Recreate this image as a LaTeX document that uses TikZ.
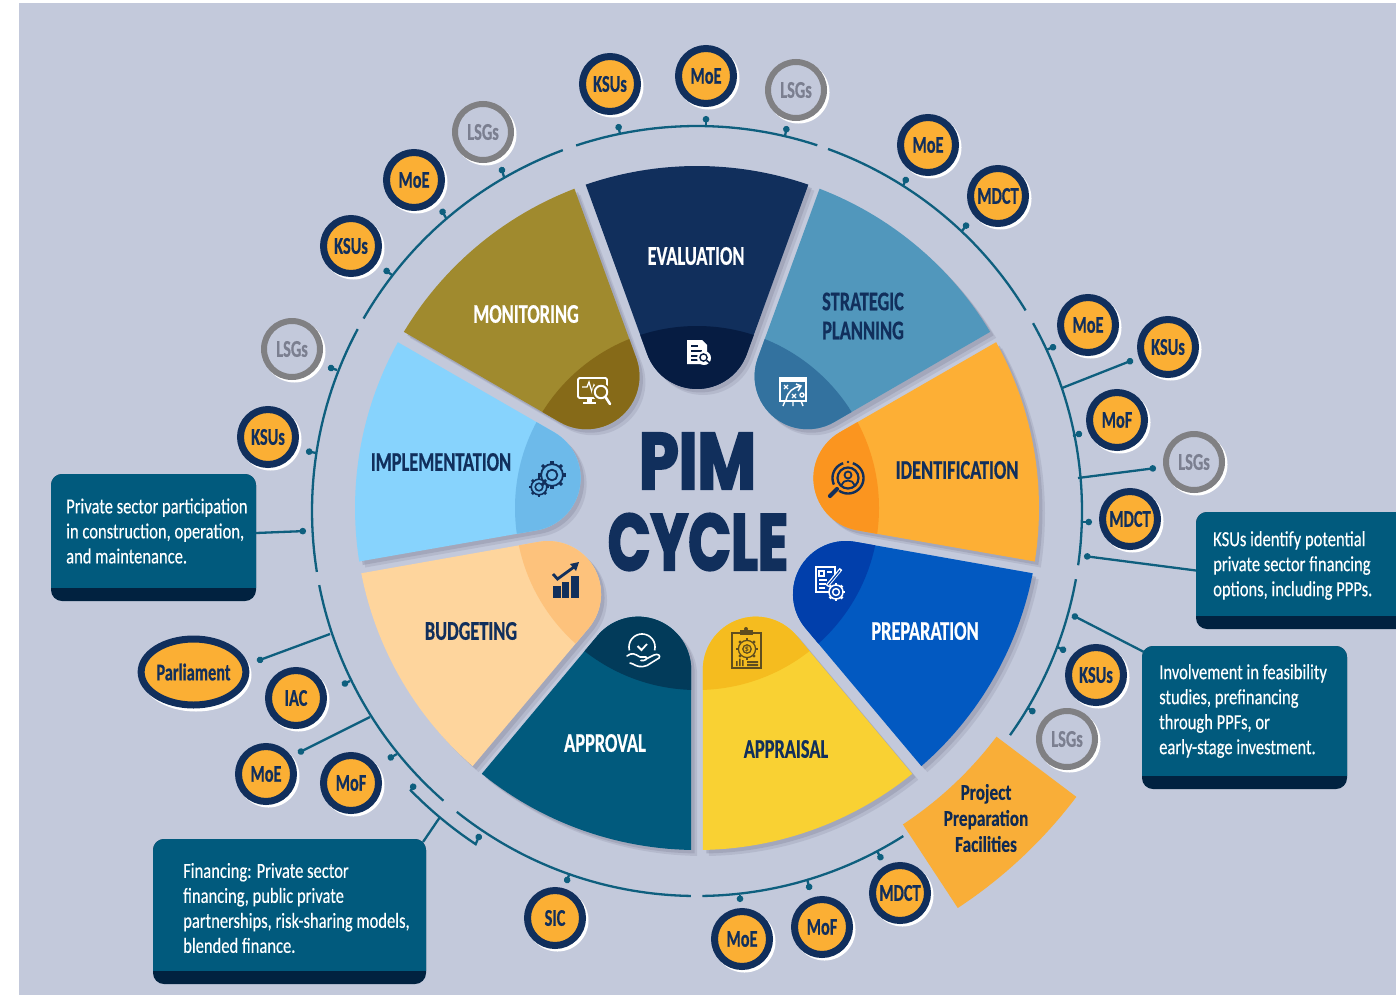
\documentclass[tikz,border=0pt]{standalone}
\usepackage{fontspec}
\usetikzlibrary{arrows.meta,calc,shapes.geometric}
\setmainfont{Carlito}
\newfontfamily\lblfont[FakeStretch=0.68,FakeBold=0.5]{Carlito}
\newfontfamily\bodyfont[FakeStretch=0.77,FakeBold=0.25]{Carlito}
\newfontfamily\ttlfont[FakeStretch=0.78,FakeBold=2.5]{Poppins}
\definecolor{bgc}{HTML}{C3C9DB}
\definecolor{navy}{HTML}{112F5C}
\definecolor{orangec}{HTML}{FBAF34}
\definecolor{ppfc}{HTML}{F9AE38}
\definecolor{ringc}{HTML}{0E5F7E}
\definecolor{boxc}{HTML}{015A7D}
\definecolor{bandc}{HTML}{012240}
\definecolor{lsgc}{HTML}{808083}
\definecolor{lsgt}{HTML}{7B7F90}
\definecolor{shadowc}{HTML}{8F93A8}
\definecolor{iconb}{HTML}{5F4D1E}
\definecolor{w1}{HTML}{112F5C}\definecolor{d1}{HTML}{061C42}
\definecolor{w2}{HTML}{5197BC}\definecolor{d2}{HTML}{33729F}
\definecolor{w3}{HTML}{FDAF35}\definecolor{d3}{HTML}{FB951F}
\definecolor{w4}{HTML}{0259C1}\definecolor{d4}{HTML}{013FAB}
\definecolor{w5}{HTML}{F9D133}\definecolor{d5}{HTML}{F5BC1F}
\definecolor{w6}{HTML}{015A7D}\definecolor{d6}{HTML}{023B5A}
\definecolor{w7}{HTML}{FED59D}\definecolor{d7}{HTML}{FDC27C}
\definecolor{w8}{HTML}{87D3FD}\definecolor{d8}{HTML}{6DBAEA}
\definecolor{w9}{HTML}{A08A2E}\definecolor{d9}{HTML}{866A18}
\tikzset{
  ringline/.style={draw=ringc,line width=2.3pt},
  tickline/.style={draw=ringc,line width=2.3pt,-{Circle[length=6.5pt,width=6.5pt]}},
  wlabel/.style={font=\lblfont\bfseries\fontsize{27}{29}\selectfont,align=center,inner sep=0pt},
  agency/.style={circle,draw=navy,line width=7pt,fill=orangec,minimum size=55pt,inner sep=0pt,text=navy,font=\lblfont\bfseries\fontsize{24}{26}\selectfont},
  lsg/.style={circle,draw=lsgc,line width=6pt,fill=bgc,minimum size=56pt,inner sep=0pt,text=lsgt,font=\lblfont\bfseries\fontsize{24}{26}\selectfont},
  boxtext/.style={text=white,align=left,inner sep=0pt,font=\bodyfont\fontsize{21.5}{25}\selectfont},
  iconw/.style={draw=white,line width=1.6pt},
  ttl/.style={inner sep=0pt,text=navy,font=\ttlfont\bfseries\fontsize{80}{80}\selectfont},
}
\newcommand{\pimwedgepath}[1]{%
  plot[domain=#1-19:#1+19,samples=30] ({697+342*cos(\x)},{508-342*sin(\x)})
  -- plot[domain=#1+110:#1+250,samples=30] ({697+172*cos(#1)+53*cos(\x)},{508-172*sin(#1)-53*sin(\x)})
  -- cycle}
\newcommand{\pimwedgeshadow}[1]{%
  \fill[shadowc,opacity=.28,shift={(6,6)}] \pimwedgepath{#1};
  \fill[shadowc,opacity=.45,shift={(3.5,3.5)}] \pimwedgepath{#1};}
\newcommand{\pimwedge}[3]{%
  \fill[#2] \pimwedgepath{#1};
  \begin{scope}
    \clip \pimwedgepath{#1};
    \fill[#3] (697,508) circle (182);
  \end{scope}}
\newcommand{\pimagency}[5][agency]{%
  \fill[white] (#4+2.5,#5+2.5) circle (31);
  \node[#1] (#2) at (#4,#5) {#3};}
\newcommand{\piminfobox}[6]{%
  \pgfmathsetmacro{\bw}{#4-#2}\pgfmathsetmacro{\bh}{#5-#3}
  \node[fill=bandc,rounded corners=11pt,inner sep=0pt,outer sep=0pt,minimum width=\bw pt,minimum height=\bh pt] (#1) at ({(#2+#4)/2},{(#3+#5)/2}) {};
  \begin{scope}
    \clip (#2,#3) rectangle (#4,#6);
    \fill[boxc,rounded corners=11pt] (#2,#3) rectangle (#4,#5);
  \end{scope}}
\newcommand{\pimgear}[5]{%
  \foreach \t in {0,45,...,315}{
    \draw[#4,line width=#5*1.7pt] ({#1+#3*.8*cos(\t)},{#2+#3*.8*sin(\t)}) -- ({#1+#3*cos(\t)},{#2+#3*sin(\t)});}
  \draw[#4,line width=#5 pt] (#1,#2) circle ({#3*.78});
  \draw[#4,line width=#5 pt] (#1,#2) circle ({#3*.38});}
\begin{document}
\begin{tikzpicture}[x=1pt,y=-1pt]
\useasboundingbox (0,0) rectangle (1396,996);
\fill[white] (0,0) rectangle (1396,996);
\fill[bgc] (18.5,3) rectangle (1396,995);

% ring
\foreach \a/\b in {108.3/71.8,70.1/31.4,29.2/-8.1,-10.2/-35.6,-57.6/-89.2,-90.9/-128.6,-131.2/-168.9,-170.9/-208.2,-210/-249.6}{
  \draw[ringline] plot[domain=\a:\b,samples=50] ({697+385*cos(\x)},{511-385*sin(\x)});
}

% ticks
\foreach \n/\bx/\by/\dx/\dy in {
  a/504/177/501/167, b/620/134/618/124, c/706/127/706/116, d/785/136/787/126,
  e/903/186/907/177, f/962/231/968/223, g/1046/350/1056/346, h/1062/388/1133/360,
  i/1073/436/1082/433, j/1078/478/1156/468, k/1081/522/1092/522,
  m/1057/647/1066/651, n/1028/708/1035/713, o/877/851/882/860, p/807/879/810/890,
  q/740/895/740/902, r/569/875/566/883, s/397/754/388/759, t/370/717/298/753,
  u/350/681/342/685, v/330/634/257/661, w/316/453/306/451, x/337/370/328/367,
  y/392/275/384/269, z/446/218/441/209}{
  \coordinate (base\n) at (\bx,\by);
  \coordinate (dot\n) at (\dx,\dy);
  \draw[tickline] (base\n) -- (dot\n);
}
% bracket
\coordinate (brA) at (415,784);
\coordinate (brB) at (480,834);
\coordinate (brM) at (440,817);
\draw[draw=ringc,line width=2.3pt,{Circle[length=6.5pt,width=6.5pt]}-{Circle[length=6.5pt,width=6.5pt]}]
  (brA) -- plot[domain=224.3:236.4,samples=20] ({697+400*cos(\x)},{511-400*sin(\x)}) -- (brB);

% wedges
\foreach \th in {90,50,10,-30,-70,-110,-150,170,130}{\pimwedgeshadow{\th}}
\pimwedge{90}{w1}{d1}
\pimwedge{50}{w2}{d2}
\pimwedge{10}{w3}{d3}
\pimwedge{-30}{w4}{d4}
\pimwedge{-70}{w5}{d5}
\pimwedge{-110}{w6}{d6}
\pimwedge{-150}{w7}{d7}
\pimwedge{170}{w8}{d8}
\pimwedge{130}{w9}{d9}

% wedge labels
\node[wlabel,text=white] (lEval) at (696,256) {EVALUATION};
\node[wlabel,text=navy] (lStrat) at (863,316) {STRATEGIC\\[0pt]PLANNING};
\node[wlabel,text=navy] (lIdent) at (957,470) {IDENTIFICATION};
\node[wlabel,text=white] (lPrep) at (925,631) {PREPARATION};
\node[wlabel,text=navy] (lAppr) at (786,749) {APPRAISAL};
\node[wlabel,text=white] (lApprv) at (605,743) {APPROVAL};
\node[wlabel,text=navy] (lBudg) at (471,631) {BUDGETING};
\node[wlabel,text=navy] (lImpl) at (441,462) {IMPLEMENTATION};
\node[wlabel,text=white] (lMon) at (526,314) {MONITORING};

% title
\node[ttl] (tPim) at (697.5,461) {\scalebox{1.02}[1]{PIM}};
\node[ttl] (tCycle) at (698,542) {\scalebox{.9}[1]{CYCLE}};

% icon: evaluation
\begin{scope}[shift={(698,352)}]
  \fill[white] (-11,-12) -- (4,-12) -- (9,-7) -- (9,12) -- (-11,12) -- cycle;
  \draw[d1,line width=1.6pt] (-7,-6) -- (0,-6) (-7,-1) -- (4,-1) (-7,4) -- (0,4) (-7,8) -- (0,8);
  \fill[white] (6,6) circle (7);
  \draw[d1,line width=1.4pt] (5.5,5.5) circle (3.6);
  \draw[d1,line width=1.6pt] (8.5,8.5) -- (12,11);
\end{scope}
% icon: strategic planning
\begin{scope}[shift={(793,391)}]
  \draw[iconw] (-13,-10) rectangle (13,10);
  \fill[white] (-14,-14) rectangle (14,-9);
  \draw[iconw,line width=1.5pt] (-7,9) .. controls (-5,0) and (0,-3) .. (7,-5);
  \draw[iconw,line width=1.5pt] (3,-7) -- (8,-5) -- (5,0);
  \draw[iconw,line width=1.2pt] (-9,-6) -- (-5,-2) (-9,-2) -- (-5,-6) (-1,3) -- (3,7) (-1,7) -- (3,3);
  \draw[iconw,line width=1.4pt] (9,4) circle (2);
  \draw[iconw,line width=1.4pt] (-8,10) -- (-10,15) (0,10) -- (0,15) (8,10) -- (10,15);
\end{scope}
% icon: monitoring
\begin{scope}[shift={(594,391)}]
  \draw[iconw,rounded corners=1.5pt,line width=1.8pt] (-16,-13) rectangle (13,7);
  \draw[iconw,line width=1.3pt] (-12,-4) -- (-7,-4) -- (-5,-9) -- (-2,1) -- (0,-6) -- (2,-3) -- (4,-3);
  \fill[white] (-7,7) rectangle (-2,11);
  \fill[white] (-11,10.5) rectangle (2,13);
  \fill[d9] (7,1) circle (9);
  \draw[iconw,line width=2pt] (7,1) circle (6.2);
  \draw[iconw,line width=2.6pt,line cap=round] (11.5,6) -- (16,13);
\end{scope}
% icon: identification
\begin{scope}[shift={(848,478)}]
  \draw[navy,line width=2.2pt] (0,0) circle (10.5);
  \draw[navy,line width=2.4pt] plot[domain=-125:72,samples=30] ({15.5*cos(\x)},{-15.5*sin(\x)});
  \draw[navy,line width=2.4pt] plot[domain=108:205,samples=20] ({15.5*cos(\x)},{-15.5*sin(\x)});
  \fill[navy] (0,-16) circle (1.3);
  \draw[navy,line width=1.8pt] (0,-3) circle (3.5);
  \draw[navy,line width=1.8pt] (-6.5,7) .. controls (-5,1) and (5,1) .. (6.5,7);
  \draw[navy,line width=4.2pt,line cap=round] (-11,11) -- (-18,18);
\end{scope}
% icon: preparation
\begin{scope}[shift={(829,583)}]
  \draw[iconw,line width=1.8pt] (6,-8) -- (6,-16) -- (-13,-16) -- (-13,9) -- (-2,9);
  \draw[iconw,line width=1.4pt] (-10,-12) rectangle (-5,-7);
  \draw[iconw,line width=1.4pt] (-2,-11) -- (3,-11) (-10,-3) -- (-2,-3) (-10,1) -- (-3,1) (-10,5) -- (-4,5);
  \draw[white,line width=3.4pt] (-2,3) -- (12,-14);
  \draw[d4,line width=1.2pt] (-1,2) -- (11,-12.5);
  \pimgear{7}{9}{9}{white}{1.5}
\end{scope}
% icon: appraisal
\begin{scope}[shift={(746,649)}]
  \draw[iconb,line width=1.4pt] (-14,-16) rectangle (15,19);
  \fill[iconb] (-6,-19) rectangle (7,-14);
  \fill[iconb] (0,-20) circle (2);
  \pimgear{1}{0}{11}{iconb}{1.3}
  \node[inner sep=0pt,text=iconb,font=\fontsize{8}{8}\selectfont\bfseries] (iDollar) at (1,0) {\$};
  \fill[iconb] (-10,12) rectangle (-8.5,17) (-7,9.5) rectangle (-5.5,17) (-4,11) rectangle (-2.5,17);
  \fill[iconb] (1,12) rectangle (12,14) (1,15) rectangle (12,17);
\end{scope}
% icon: approval
\begin{scope}[shift={(643,650)}]
  \draw[iconw] plot[domain=-15:195,samples=30] ({-1+13*cos(\x)},{-3-13*sin(\x)});
  \draw[iconw,line width=1.8pt] (-5.5,-4) -- (-1.5,0) -- (4,-6);
  \draw[iconw,line cap=round,line join=round] (-16,6) .. controls (-11,2) and (-8,4) .. (-3,7) -- (3,7) .. controls (5,9) and (2,11) .. (-2,10.5);
  \draw[iconw,line cap=round,line join=round] (3,9) -- (11,5) .. controls (15,3) and (18,6) .. (16,8) -- (4,15.5) .. controls (-2,18) and (-7,16) .. (-10,14) -- (-13,13);
\end{scope}
% icon: budgeting
\begin{scope}[shift={(566,580)}]
  \fill[navy] (-13,6) rectangle (-5.5,18);
  \fill[navy] (-4,2) rectangle (3,18);
  \fill[navy] (4.5,-4) rectangle (12.5,18);
  \draw[navy,line width=2.8pt] (-13,-6) -- (-8.5,-1) -- (8,-13);
  \fill[navy] (4,-16) -- (13,-18) -- (10,-9) -- cycle;
\end{scope}
% icon: implementation
\pimgear{552}{475}{14}{navy}{1.8}
\pimgear{539}{487}{10}{navy}{1.6}

% project preparation facilities
\fill[ppfc]
  plot[domain=-37:-56.7,samples=20] ({697+375*cos(\x)},{511-375*sin(\x)})
  -- plot[domain=-56.7:-37,samples=20] ({697+475*cos(\x)},{511-475*sin(\x)}) -- cycle;
\node[inner sep=0pt,text=navy!90!black,align=center,font=\bodyfont\bfseries\fontsize{22.5}{26}\selectfont] (ppf) at (986,818) {Project\\Preparation\\Facilities};

% agencies
\pimagency{mA}{MoE}{706}{76}
\pimagency{kA}{KSUs}{610}{84}
\pimagency[lsg]{lA}{LSGs}{796}{90}
\pimagency[lsg]{lB}{LSGs}{483}{132}
\pimagency{mB}{MoE}{414}{180}
\pimagency{kB}{KSUs}{351}{246}
\pimagency[lsg]{lC}{LSGs}{292}{349}
\pimagency{kC}{KSUs}{268}{437}
\pimagency{mC}{MoE}{928}{145}
\pimagency{dA}{MDCT}{998}{196}
\pimagency{mD}{MoE}{1088}{325}
\pimagency{kD}{KSUs}{1168}{347}
\pimagency{fA}{MoF}{1117}{420}
\pimagency[lsg]{lD}{LSGs}{1194}{462}
\pimagency{dB}{MDCT}{1130}{519}
\pimagency{kE}{KSUs}{1096}{675}
\pimagency[lsg]{lE}{LSGs}{1067}{739}
\pimagency{dC}{MDCT}{900}{893}
\pimagency{fB}{MoF}{822}{927}
\pimagency{mE}{MoE}{742}{939}
\pimagency{sA}{SIC}{555}{918}
\pimagency{iA}{IAC}{296}{698}
\pimagency{mF}{MoE}{266}{774}
\pimagency{fC}{MoF}{351}{783}
\fill[white] (196,675) ellipse (55.5 and 36.5);
\node[ellipse,draw=navy,line width=7pt,fill=orangec,minimum width=104pt,minimum height=66pt,inner sep=0pt,text=navy,font=\lblfont\bfseries\fontsize{24}{26}\selectfont] (parl) at (193.5,672) {Parliament};

% info boxes
\coordinate (dotL) at (306,531);
\coordinate (dotK) at (1084,556);
\coordinate (dotI) at (1072,615);
\piminfobox{boxL}{51}{474}{256}{601}{587}
\piminfobox{boxF}{153}{839}{426}{984}{970}
\piminfobox{boxK}{1196}{512}{1410}{629}{615}
\piminfobox{boxI}{1142}{646}{1347}{789}{775}
\draw[tickline] ($(boxL.east)+(0,-4.5)$) -- (dotL);
\draw[tickline] (boxK.west) -- (dotK);
\draw[tickline] ($(boxI.north west)+(2,6)$) -- (dotI);
\draw[ringline] ($(boxF.north east)+(-3,3)$) -- (brM);

\node[boxtext,anchor=west] (tL) at (66,531) {Private sector participation\\in construction, operation,\\and maintenance.};
\node[boxtext,anchor=west] (tF) at (183,908) {Financing: Private sector\\financing, public private\\partnerships, risk-sharing models,\\blended finance.};
\node[boxtext,anchor=west] (tK) at (1213,565.5) {KSUs identify potential\\private sector financing\\options, including PPPs.};
\node[boxtext,anchor=west] (tI) at (1159,711) {Involvement in feasibility\\studies, prefinancing\\through PPFs, or\\early-stage investment.};
\end{tikzpicture}
\end{document}
